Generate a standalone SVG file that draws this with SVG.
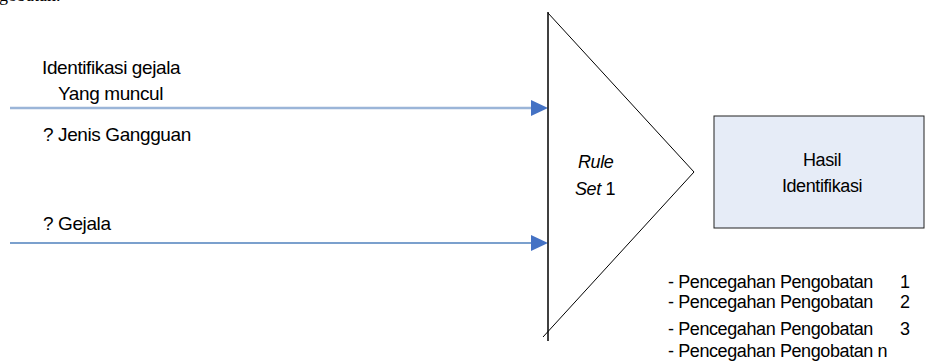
<svg xmlns="http://www.w3.org/2000/svg" width="925" height="363" viewBox="0 0 925 363">
<style>
text{font-family:"Liberation Sans",Arial,sans-serif;font-size:18px;fill:#000;letter-spacing:-0.4px}
.lbl{font-size:19px}
.serif{font-family:"Liberation Serif","Times New Roman",serif;letter-spacing:0}
.it{font-style:italic}
</style>
<rect width="925" height="363" fill="#fff"/>
<text class="serif" x="-10" y="1">ngobatan.</text>
<g id="connectors">
<line x1="10" y1="108" x2="532" y2="108" stroke="#9bb5d8" stroke-width="2.5"/>
<polygon points="531,100 548,108 531,116" fill="#4472c4"/>
<line x1="10" y1="243" x2="532" y2="243" stroke="#4f81bd" stroke-width="1.5"/>
<polygon points="531,235 548,243 531,251" fill="#4472c4"/>
</g>
<g id="labels-left">
<text class="lbl" x="42" y="74">Identifikasi gejala</text>
<text class="lbl" x="58" y="100">Yang muncul</text>
<text class="lbl" x="43" y="141">? Jenis Gangguan</text>
<text class="lbl" x="43" y="230">? Gejala</text>
</g>
<g id="ruleset">
<line x1="548" y1="12" x2="548" y2="341" stroke="#000" stroke-width="1.5"/>
<polyline points="548,13 694,172 543,337" fill="none" stroke="#000" stroke-width="1"/>
<text class="it" x="578" y="168">Rule</text>
<text x="575" y="195"><tspan class="it">Set</tspan> 1</text>
</g>
<g id="hasil">
<rect x="714" y="116" width="210" height="112" fill="#e6ecf7" stroke="#222" stroke-width="1"/>
<text x="822" y="166" text-anchor="middle">Hasil</text>
<text x="822" y="192" text-anchor="middle">Identifikasi</text>
</g>
<g id="list">
<text x="668" y="288">- Pencegahan Pengobatan</text>
<text x="900" y="288">1</text>
<text x="668" y="308">- Pencegahan Pengobatan</text>
<text x="900" y="308">2</text>
<text x="668" y="335">- Pencegahan Pengobatan</text>
<text x="900" y="335">3</text>
<text x="668" y="357">- Pencegahan Pengobatan n</text>
</g>
</svg>
